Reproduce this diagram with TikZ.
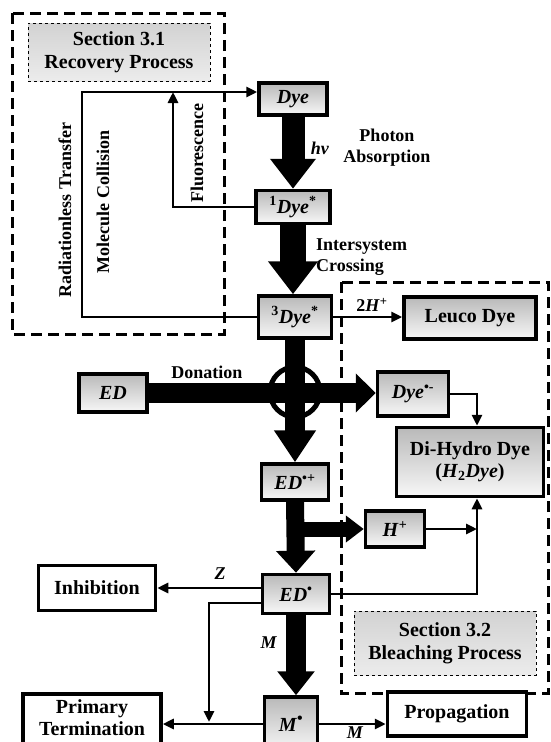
\documentclass[tikz,border=0pt]{standalone}
\usepackage{fontspec}
\setmainfont{Liberation Serif}
\usetikzlibrary{arrows.meta,calc}

\begin{document}
\begin{tikzpicture}[x=1pt,y=-1pt,
    graybox/.style={draw,line width=3.5pt,top color=gray!55,bottom color=gray!6,font=\fontsize{20}{22}\selectfont\bfseries,inner sep=0pt,align=center},
    whitebox/.style={draw,line width=3.5pt,fill=white,font=\fontsize{20}{23}\selectfont\bfseries,inner sep=0pt,align=center},
    secbox/.style={draw,dashed,line width=0.6pt,top color=gray!35,bottom color=gray!15,font=\fontsize{20}{23}\selectfont\bfseries,inner sep=0pt,align=center},
    region/.style={line width=3pt,dash pattern=on 11pt off 6pt},
    lbl/.style={font=\fontsize{18}{21}\selectfont\bfseries,inner sep=0pt,align=center},
    flow/.style={line width=2.8pt,-{Triangle[length=11pt,width=10pt]}},
    fat/.style n args={3}{line width=#1,-{Triangle[width=#2,length=#3]}}]
    \useasboundingbox (0,0) rectangle (551,742);
    \clip (0,0) rectangle (551,742);
    \draw[region] (12,13) rectangle (224,334);
    \draw[region] (341,282) rectangle (548,693);
    \node[secbox,minimum width=182pt,minimum height=58pt] (sec1) at (119,52) {Section 3.1\\Recovery Process};
    \node[secbox,minimum width=182pt,minimum height=64pt] (sec2) at (445,643) {Section 3.2\\Bleaching Process};
    \node[graybox,minimum width=68pt,minimum height=32pt] (dye) at (293,99) {\textit{Dye}};
    \node[graybox,minimum width=74pt,minimum height=33pt] (sdye) at (293,207) {\textsuperscript{1}\textit{Dye}\textsuperscript{*}};
    \node[graybox,minimum width=73pt,minimum height=42pt] (tdye) at (295,317) {\textsuperscript{3}\textit{Dye}\textsuperscript{*}};
    \node[graybox,minimum width=132pt,minimum height=42pt] (leuco) at (470,318) {Leuco Dye};
    \node[graybox,minimum width=68pt,minimum height=38pt] (ed) at (113,393) {\textit{ED}};
    \node[graybox,minimum width=71pt,minimum height=44pt] (dyem) at (413,394) {\textit{Dye}\textsuperscript{•-}};
    \node[graybox,minimum width=147pt,minimum height=69pt] (dihydro) at (470,462) {Di-Hydro Dye\\(\textit{H}\textsubscript{2}\textit{Dye})};
    \node[graybox,minimum width=67pt,minimum height=36pt] (edp) at (295,482) {\textit{ED}\textsuperscript{•+}};
    \node[graybox,minimum width=59pt,minimum height=36pt] (hp) at (395,529) {\textit{H}\textsuperscript{+}};
    \node[graybox,minimum width=67pt,minimum height=39pt] (edr) at (296,594) {\textit{ED}\textsuperscript{•}};
    \node[graybox,minimum width=53pt,minimum height=54pt] (mr) at (291,724) {\textit{M}\textsuperscript{\fontsize{16}{16}\selectfont•}};
    \node[whitebox,minimum width=117pt,minimum height=45pt] (inhib) at (97,588) {Inhibition};
    \node[whitebox,minimum width=138pt,minimum height=60pt,yshift=-2pt] (prim) at (92,722) {};
    \node[lbl,font=\fontsize{20}{22}\selectfont\bfseries] (primtxt) at (92,718) {Primary\\Termination};
    \node[whitebox,minimum width=139pt,minimum height=44pt] (prop) at (457,714) {Propagation};
    \coordinate (rcTop) at (82,92);
    \coordinate (flTop) at (173,92);
    \coordinate (dhIn) at (477,0);
    \coordinate (ptDrop) at (209,722);
    \node[lbl] (hv) at (320,148) {\textit{hv}};
    \node[lbl] (photon) at (387,148) {Photon\\Absorption};
    \node[lbl,anchor=west,align=left] (isc) at (316,257) {Intersystem\\Crossing};
    \node[lbl] (twoh) at (372,305) {2\textit{H}\textsuperscript{+}};
    \node[lbl] (don) at (207,372) {Donation};
    \node[lbl,rotate=90] (rad) at (65,210) {Radiationless Transfer};
    \node[lbl,rotate=90] (mol) at (103,202) {Molecule Collision};
    \node[lbl,rotate=90] (flu) at (197,153) {Fluorescence};
    \node[lbl] (zlbl) at (220,574) {\textit{Z}};
    \node[lbl] (mlbl) at (269,643) {\textit{M}};
    \node[lbl] (mlbl2) at (355,733) {\textit{M}};
    \draw[fat={20pt}{38pt}{20pt}] (ed.east) -- (ed.east -| dyem.west);
    \draw[line width=5pt] (295,392) circle (25);
    \draw[fat={23pt}{44pt}{30pt}] (dye.south) -- (sdye.north);
    \draw[fat={26pt}{48pt}{33pt}] (sdye.south) -- (sdye.south |- tdye.north);
    \draw[fat={20pt}{40pt}{32pt}] (tdye.south) -- (edp.north);
    \draw[fat={18pt}{38pt}{22pt}] (edp.south) -- (edr.north);
    \draw[fat={15pt}{26pt}{18pt}] (edp.south |- hp.west) -- (hp.west);
    \draw[fat={20pt}{36pt}{24pt}] (edr.south) -- (edr.south |- mr.north);
    \draw[flow] (tdye.west) -| (rcTop) -- (dye.west |- rcTop);
    \draw[flow] (sdye.west) -| (flTop);
    \draw[flow] (tdye.east) -- (tdye.east -| leuco.west);
    \draw[flow] (dyem.east) -| (dhIn |- dihydro.north);
    \draw[flow] (edr.east) -| (dhIn |- dihydro.south);
    \draw[flow] (hp.east) -- (dhIn |- hp.east);
    \draw[flow] (edr.west |- inhib.east) -- (inhib.east);
    \draw[flow] ([yshift=-9pt]edr.west) -| (ptDrop);
    \draw[flow] (mr.west) -- (mr.west -| prim.east);
    \draw[flow] (mr.east) -- (mr.east -| prop.west);
\end{tikzpicture}
\end{document}
